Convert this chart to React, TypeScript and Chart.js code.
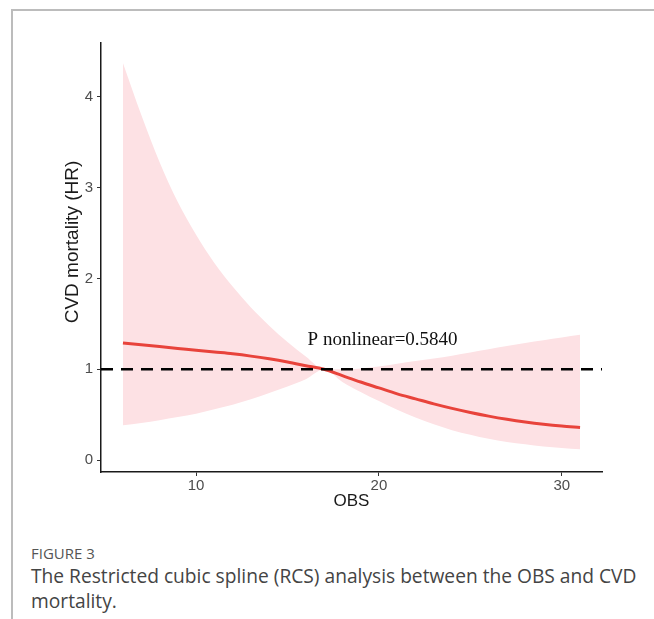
import React, { useEffect, useRef } from "react";
import { Chart, registerables } from "chart.js";

Chart.register(...registerables);

// OBS values where the spline was read
const obs = [6, 7, 8, 9, 10, 11, 12, 13, 14, 15, 16, 17, 18, 19, 20, 21, 22, 23, 24, 25, 26, 27, 28, 29, 30, 31];
// Hazard ratio estimate
const hr = [1.29, 1.27, 1.25, 1.23, 1.21, 1.19, 1.17, 1.145, 1.115, 1.08, 1.04, 1.0, 0.93, 0.86, 0.795, 0.73, 0.675, 0.62, 0.57, 0.525, 0.485, 0.45, 0.42, 0.395, 0.375, 0.36];
// 95% CI upper bound
const upper = [4.37, 3.8, 3.28, 2.84, 2.48, 2.17, 1.91, 1.68, 1.48, 1.3, 1.14, 1.0, 1.0, 1.01, 1.03, 1.06, 1.09, 1.12, 1.15, 1.185, 1.22, 1.255, 1.29, 1.32, 1.35, 1.38];
// 95% CI lower bound
const lower = [0.385, 0.41, 0.44, 0.475, 0.51, 0.56, 0.61, 0.67, 0.74, 0.81, 0.89, 1.0, 0.86, 0.75, 0.65, 0.555, 0.47, 0.395, 0.33, 0.28, 0.235, 0.2, 0.175, 0.15, 0.135, 0.12];

const xTicks = [10, 20, 30];
const yTicks = [0, 1, 2, 3, 4];
const X_MIN = 4.8;
const X_MAX = 32.2;
const Y_MIN = -0.13;
const Y_MAX = 4.59;
const REF_HR = 1;

const annotText = "P nonlinear=0.5840";
const annotX = 20.2;
const annotY = 1.32;

const yTitle = "CVD mortality (HR)";
const xTitle = "OBS";

const pts = (ys: number[]) => obs.map((x, i) => ({ x, y: ys[i] }));

export default function App() {
  const ref = useRef<HTMLCanvasElement | null>(null);

  useEffect(() => {
    if (!ref.current) return;
    const textPlugin = {
      id: "texts",
      afterDatasetsDraw(chart: any) {
        const { ctx, scales } = chart;
        ctx.save();
        ctx.fillStyle = "#111";
        ctx.font = '19px "Liberation Serif"';
        ctx.textAlign = "center";
        ctx.textBaseline = "middle";
        ctx.fillText(annotText, scales.x.getPixelForValue(annotX), scales.y.getPixelForValue(annotY));
        ctx.restore();
        ctx.save();
        ctx.fillStyle = "#1a1a1a";
        ctx.font = '19px "Liberation Sans"';
        ctx.translate(73, 242);
        ctx.rotate(-Math.PI / 2);
        ctx.textAlign = "center";
        ctx.textBaseline = "middle";
        ctx.fillText(yTitle, 0, 0);
        ctx.restore();
      },
    };
    const chart = new Chart(ref.current, {
      type: "line",
      data: {
        datasets: [
          {
            data: [
              { x: X_MIN, y: REF_HR },
              { x: X_MAX, y: REF_HR },
            ],
            borderColor: "#000",
            borderWidth: 2.5,
            borderDash: [12, 8],
            pointRadius: 0,
            fill: false,
            order: 0,
          },
          {
            data: pts(hr),
            borderColor: "#e8433b",
            borderWidth: 3,
            pointRadius: 0,
            cubicInterpolationMode: "monotone",
            fill: false,
            order: 1,
          },
          {
            data: pts(upper),
            borderWidth: 0,
            borderColor: "rgba(0,0,0,0)",
            backgroundColor: "#fde1e4",
            pointRadius: 0,
            cubicInterpolationMode: "monotone",
            fill: "+1",
            order: 2,
          },
          {
            data: pts(lower),
            borderWidth: 0,
            borderColor: "rgba(0,0,0,0)",
            pointRadius: 0,
            cubicInterpolationMode: "monotone",
            fill: false,
            order: 3,
          },
        ],
      },
      options: {
        responsive: false,
        animation: false,
        events: [],
        layout: { padding: { top: 43, right: 52, left: 0, bottom: 0 } },
        plugins: { legend: { display: false }, tooltip: { enabled: false } },
        scales: {
          x: {
            type: "linear",
            min: X_MIN,
            max: X_MAX,
            afterBuildTicks: (s: any) => {
              s.ticks = xTicks.map((v) => ({ value: v }));
            },
            afterFit: (s: any) => {
              s.height = 48;
            },
            grid: { display: true, drawOnChartArea: false, drawTicks: true, tickLength: 4, color: "#333", lineWidth: 1 },
            border: { display: true, color: "#1a1a1a", width: 1.5 },
            ticks: { color: "#4d4d4d", font: { family: "Liberation Sans", size: 15 }, padding: 1, maxRotation: 0 },
            title: {
              display: true,
              text: xTitle,
              color: "#1a1a1a",
              font: { family: "Liberation Sans", size: 17 },
              padding: { top: 0, bottom: 8 },
            },
          },
          y: {
            type: "linear",
            min: Y_MIN,
            max: Y_MAX,
            afterBuildTicks: (s: any) => {
              s.ticks = yTicks.map((v) => ({ value: v }));
            },
            afterFit: (s: any) => {
              s.width = 101;
            },
            grid: { display: true, drawOnChartArea: false, drawTicks: true, tickLength: 4, color: "#333", lineWidth: 1 },
            border: { display: true, color: "#1a1a1a", width: 1.5 },
            ticks: { color: "#4d4d4d", font: { family: "Liberation Sans", size: 15 }, padding: 4 },
            title: { display: false },
          },
        },
      },
      plugins: [textPlugin],
    } as any);
    return () => chart.destroy();
  }, []);

  return (
    <div style={{ position: "fixed", left: 0, top: 0, width: 654, height: 619, background: "#fff", overflow: "hidden" }}>
      <div
        style={{
          position: "absolute",
          left: 11,
          top: 9,
          right: -10,
          bottom: -10,
          borderTop: "2px solid #bcbcbc",
          borderLeft: "2px solid #bcbcbc",
        }}
      />
      <canvas ref={ref} width={654} height={520} style={{ position: "absolute", left: 0, top: 0, width: 654, height: 520 }} />
      <div
        style={{
          position: "absolute",
          left: 31,
          top: 543,
          fontFamily: '"Open Sans", sans-serif',
          color: "#555",
          fontSize: 15,
          lineHeight: "20px",
          whiteSpace: "nowrap",
        }}
      >
        FIGURE 3
      </div>
      <div
        style={{
          position: "absolute",
          left: 31,
          top: 563,
          fontFamily: '"Open Sans", sans-serif',
          color: "#444",
          fontSize: 19.2,
          lineHeight: "25px",
          whiteSpace: "nowrap",
        }}
      >
        The Restricted cubic spline (RCS) analysis between the OBS and CVD
        <br />
        mortality.
      </div>
    </div>
  );
}
